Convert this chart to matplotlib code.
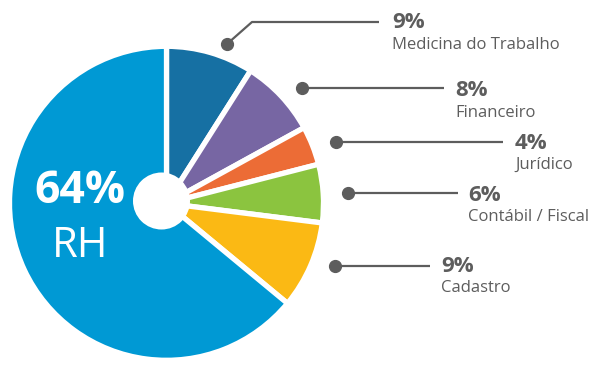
import matplotlib.pyplot as plt
from matplotlib.patches import Circle

# data
labels = ["Medicina do Trabalho", "Financeiro", "Jurídico", "Contábil / Fiscal", "Cadastro", "RH"]
values = [9, 8, 4, 6, 9, 64]
colors = ["#1670a3", "#7766a3", "#ec6c36", "#8bc43f", "#fbb914", "#0099d4"]

# callout layout (pixel coords, y down): dot, elbow, line end, text x
dots = [(227, 44), (302, 88), (336, 142), (348, 193), (335, 266)]
elbows = [(252, 22), None, None, None, None]
line_ends = [379, 444, 503, 458, 430]
text_x = [392, 455, 515, 468, 441]
pct_base = [28, 96, 149, 201, 272]
name_base = [49, 117, 169, 221, 292]

gray = "#5d5d5d"
plt.rcParams["font.family"] = ["Open Sans", "DejaVu Sans"]

fig = plt.figure(figsize=(6, 3.76), dpi=100)
ax = fig.add_axes([0, 0, 1, 1])

# y axis inverted: counterclock=True in data is clockwise on screen
ax.pie(values, colors=colors, startangle=-90, counterclock=True,
       center=(166.5, 203.3), radius=157, frame=True,
       wedgeprops={"edgecolor": "white", "linewidth": 3.8})
ax.add_patch(Circle((161.5, 201), 28.5, facecolor="white", edgecolor="none", zorder=5))

ax.set_xlim(0, 600)
ax.set_ylim(376, 0)
ax.set_aspect("equal")
ax.axis("off")

ax.text(80, 203, "%d%%" % values[-1], color="white", fontsize=32, fontweight="bold",
        ha="center", va="baseline", zorder=6)
ax.text(80.5, 257, labels[-1], color="white", fontsize=30, ha="center", va="baseline", zorder=6)

for i in range(5):
    dx, dy = dots[i]
    if elbows[i]:
        ex, ey = elbows[i]
        ax.plot([dx, ex, line_ends[i]], [dy, ey, ey], color=gray, lw=1.6, solid_capstyle="butt")
    else:
        ax.plot([dx, line_ends[i]], [dy, dy], color=gray, lw=1.6, solid_capstyle="butt")
    ax.plot(dx, dy, "o", color=gray, markersize=8.5)
    ax.text(text_x[i], pct_base[i], "%d%%" % values[i], color=gray, fontsize=16,
            fontweight="bold", ha="left", va="baseline")
    ax.text(text_x[i], name_base[i], labels[i], color=gray, fontsize=12,
            ha="left", va="baseline")

fig.savefig("out.png", dpi=100)
